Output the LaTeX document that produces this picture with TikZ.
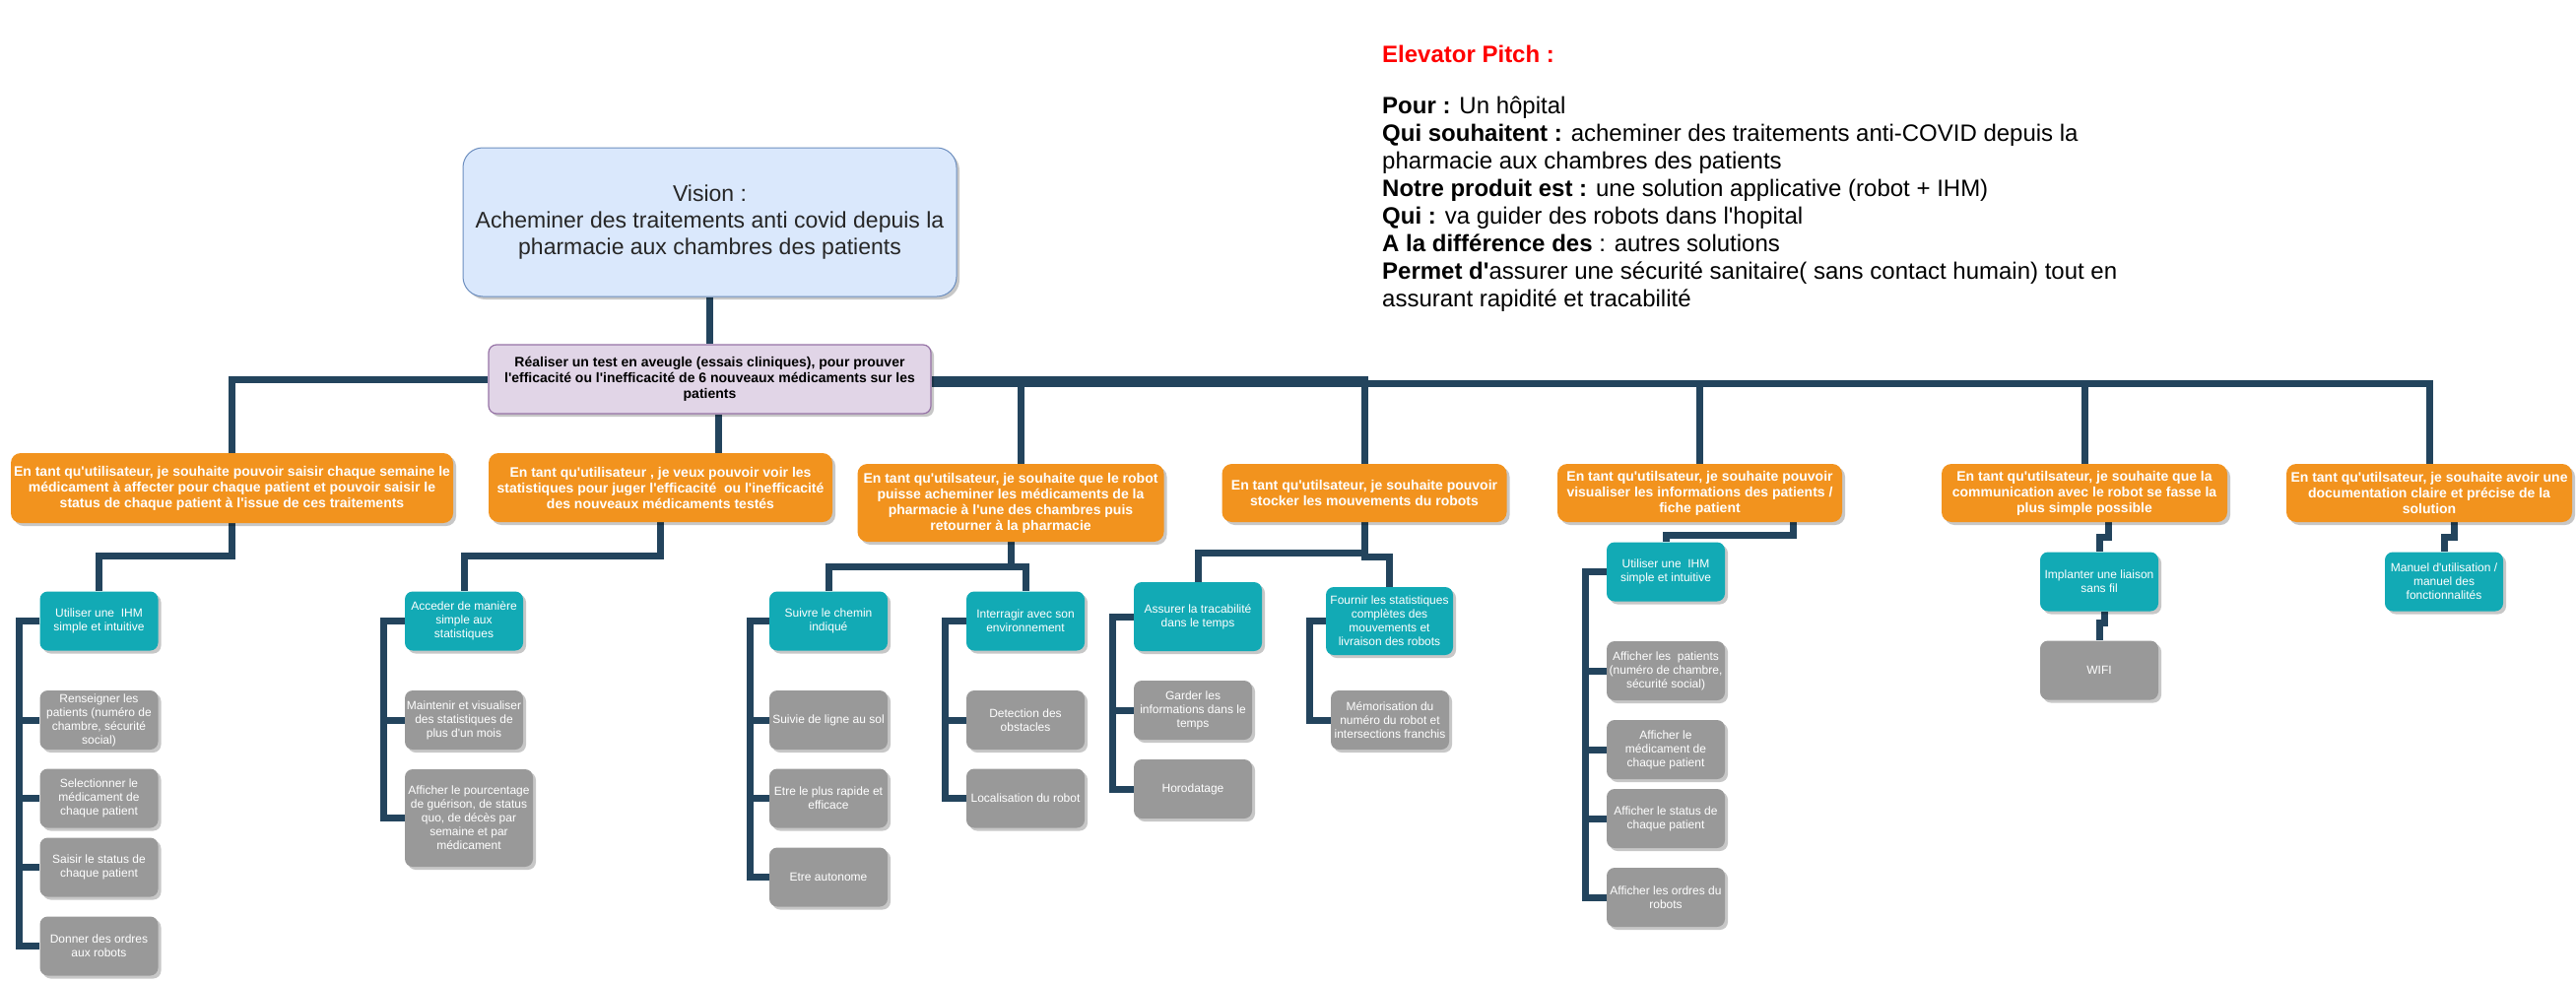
\documentclass[tikz,border=0pt]{standalone}
\usepackage{fontspec}
\setmainfont{Liberation Sans}[Ligatures=TeXOff]
\usetikzlibrary{shadows}

\definecolor{wirecol}{HTML}{23445D}
\definecolor{storycol}{HTML}{F2931E}
\definecolor{taskcol}{HTML}{12AAB5}
\definecolor{subcol}{HTML}{999999}
\definecolor{visionfill}{HTML}{DAE8FC}
\definecolor{visionline}{HTML}{6C8EBF}
\definecolor{epicfill}{HTML}{E1D5E7}
\definecolor{epicline}{HTML}{9673A6}

\pgfdeclarelayer{wires}
\pgfsetlayers{wires,main}

\tikzset{
  card/.style={rounded corners=8pt, align=center, inner sep=1pt, text=white,
    drop shadow={shadow xshift=3pt, shadow yshift=-3pt, fill=black, opacity=0.22}},
  visionbox/.style={card, fill=visionfill, draw=visionline, line width=1pt, rounded corners=20pt,
    text=black!85, font=\fontsize{23}{27}\selectfont},
  epicbox/.style={card, fill=epicfill, draw=epicline, line width=1.2pt, text=black,
    font=\fontsize{14}{16}\selectfont\bfseries},
  storybox/.style={card, fill=storycol, rounded corners=10pt, font=\fontsize{14}{16}\selectfont\bfseries},
  taskbox/.style={card, fill=taskcol, minimum width=120pt, minimum height=60pt,
    font=\fontsize{12}{14}\selectfont},
  subbox/.style={taskbox, fill=subcol},
  pitchtext/.style={anchor=base west, inner sep=0pt, font=\fontsize{24}{28}\selectfont},
  wire/.style={draw=wirecol, line width=7pt},
}

\begin{document}
\begin{tikzpicture}[x=1pt, y=-1pt]
  \useasboundingbox (0,0) rectangle (2615,996);

  % vision and epic
  \node[visionbox, minimum width=501pt, minimum height=151pt] (vision) at (720.5,225.5)
    {Vision :\\Acheminer des traitements anti covid depuis la\\pharmacie aux chambres des patients};
  \node[epicbox, minimum width=449pt, minimum height=70pt] (test) at (720.5,385)
    {R\'ealiser un test en aveugle (essais cliniques), pour prouver\\l'efficacit\'e ou l'inefficacit\'e de 6 nouveaux m\'edicaments sur les\\patients};

  % user stories
  \node[storybox, minimum width=449pt, minimum height=71pt] (us1) at (235.5,495.5)
    {En tant qu'utilisateur, je souhaite pouvoir saisir chaque semaine le\\m\'edicament \`a affecter pour chaque patient et pouvoir saisir le\\status de chaque patient \`a l'issue de ces traitements};
  \node[storybox, minimum width=349pt, minimum height=70pt] (us2) at (670.5,495)
    {En tant qu'utilisateur , je veux pouvoir voir les\\statistiques pour juger l'efficacit\'e\ \ ou l'inefficacit\'e\\des nouveaux m\'edicaments test\'es};
  \node[storybox, minimum width=311pt, minimum height=79pt] (us3) at (1026,510.5)
    {En tant qu'utilsateur, je souhaite que le robot\\puisse acheminer les m\'edicaments de la\\pharmacie \`a l'une des chambres puis\\retourner \`a la pharmacie};
  \node[storybox, minimum width=289pt, minimum height=59pt] (us4) at (1385,500.5)
    {En tant qu'utilsateur, je souhaite pouvoir\\stocker les mouvements du robots};
  \node[storybox, minimum width=289pt, minimum height=59pt] (us5) at (1725.5,500.5)
    {En tant qu'utilsateur, je souhaite pouvoir\\visualiser les informations des patients /\\fiche patient};
  \node[storybox, minimum width=290pt, minimum height=59pt] (us6) at (2116,500.5)
    {En tant qu'utilsateur, je souhaite que la\\communication avec le robot se fasse la\\plus simple possible};
  \node[storybox, minimum width=290pt, minimum height=59pt] (us7) at (2466,500.5)
    {En tant qu'utilsateur, je souhaite avoir une\\documentation claire et pr\'ecise de la\\solution};

  % tasks and subtasks
  \node[taskbox] (t1) at (100.5,630.5) {Utiliser une\ \ IHM\\simple et intuitive};
  \node[subbox] (s1a) at (100.5,731) {Renseigner les\\patients (num\'ero de\\chambre, s\'ecurit\'e\\social)};
  \node[subbox] (s1b) at (100.5,810.5) {Selectionner le\\m\'edicament de\\chaque patient};
  \node[subbox] (s1c) at (100.5,880.5) {Saisir le status de\\chaque patient};
  \node[subbox] (s1d) at (100.5,960.5) {Donner des ordres\\aux robots};

  \node[taskbox] (t2) at (471,630.5) {Acceder de mani\`ere\\simple aux\\statistiques};
  \node[subbox] (s2a) at (471,731) {Maintenir et visualiser\\des statistiques de\\plus d'un mois};
  \node[subbox, minimum width=130pt, minimum height=99pt] (s2b) at (476,830.5)
    {Afficher le pourcentage\\de gu\'erison, de status\\quo, de d\'ec\`es par\\semaine et par\\m\'edicament};

  \node[taskbox] (t3) at (841,630.5) {Suivre le chemin\\indiqu\'e};
  \node[subbox] (s3a) at (841,731) {Suivie de ligne au sol};
  \node[subbox] (s3b) at (841,810.5) {Etre le plus rapide et\\efficace};
  \node[subbox] (s3c) at (841,890.5) {Etre autonome};

  \node[taskbox] (t4) at (1041,630.5) {Interragir avec son\\environnement};
  \node[subbox] (s4a) at (1041,731) {Detection des\\obstacles};
  \node[subbox] (s4b) at (1041,810.5) {Localisation du robot};

  \node[taskbox, minimum width=130pt, minimum height=70pt] (t5) at (1216,626) {Assurer la tracabilit\'e\\dans le temps};
  \node[subbox] (s5a) at (1211,721) {Garder les\\informations dans le\\temps};
  \node[subbox] (s5b) at (1211,801) {Horodatage};

  \node[taskbox, minimum width=129pt, minimum height=69pt] (t6) at (1410.5,630.5)
    {Fournir les statistiques\\compl\`etes des\\mouvements et\\livraison des robots};
  \node[subbox] (s6a) at (1411,731) {M\'emorisation du\\num\'ero du robot et\\intersections franchis};

  \node[taskbox] (t7) at (1691,580.5) {Utiliser une\ \ IHM\\simple et intuitive};
  \node[subbox] (s7a) at (1691,681) {Afficher les\ \ patients\\(num\'ero de chambre,\\s\'ecurit\'e social)};
  \node[subbox] (s7b) at (1691,761) {Afficher le\\m\'edicament de\\chaque patient};
  \node[subbox] (s7c) at (1691,831) {Afficher le status de\\chaque patient};
  \node[subbox] (s7d) at (1691,911) {Afficher les ordres du\\robots};

  \node[taskbox] (t8) at (2131,590.5) {Implanter une liaison\\sans fil};
  \node[subbox] (s8a) at (2131,680.5) {WIFI};

  \node[taskbox] (t9) at (2481,590.5) {Manuel d'utilisation /\\manuel des\\fonctionnalit\'es};

  % elevator pitch
  \node[pitchtext, text=red, font=\fontsize{24}{28}\selectfont\bfseries] (pitch) at (1403,63) {Elevator Pitch :};
  \foreach \ln [count=\i from 0] in {
      {\textbf{Pour :} Un h\^opital},
      {\textbf{Qui souhaitent :} acheminer des traitements anti-COVID depuis la},
      {pharmacie aux chambres des patients},
      {\textbf{Notre produit est :} une solution applicative (robot + IHM)},
      {\textbf{Qui :} va guider des robots dans l'hopital},
      {\textbf{A la diff\'erence des} : autres solutions},
      {\textbf{Permet d'}assurer une s\'ecurit\'e sanitaire( sans contact humain) tout en},
      {assurant rapidit\'e et tracabilit\'e}} {
    \node[pitchtext] (pitch\i) at (1403,115+28*\i) {\ln};
  }

  % connectors
  \begin{pgfonlayer}{wires}
    \fill[white] (0,0) rectangle (2615,996);
    \draw[wire] (vision.south) -- (test.north);
    \draw[wire] (test.west) -| (us1.north);
    \draw[wire] ([xshift=59pt]us2.north) -- ([xshift=9pt]test.south);
    \draw[wire] (test.east) -| ([xshift=10pt]us3.north);
    \draw[wire] (test.east) -| (us4.north);
    \foreach \n in {5,6,7}
      \draw[wire] ([yshift=-4pt]test.east) -| (us\n.north);

    \draw[wire] (us1.south) -- ++(0,33) -| (t1.north);
    \draw[wire] (us2.south) -- ++(0,34) -| (t2.north);
    \draw[wire] (us3.south) -- ++(0,25) -| (t3.north);
    \draw[wire] (us3.south) -- ++(0,25) -| (t4.north);
    \draw[wire] (us4.south) -- ++(0,31) -| (t5.north);
    \draw[wire] (us4.south) -- ++(0,35) -| (t6.north);
    \draw[wire] ([xshift=95pt]us5.south) -- ++(0,13) -| (t7.north);
    \draw[wire] ([xshift=24pt]us6.south) -- ++(0,15) -| (t8.north);
    \draw[wire] ([xshift=5pt]t8.south) -- ++(0,12) -| (s8a.north);
    \draw[wire] ([xshift=25pt]us7.south) -- ++(0,15) -| (t9.north);

    \foreach \c in {a,b,c,d}
      \draw[wire] (t1.west) -- ++(-21,0) |- (s1\c.west);
    \foreach \c in {a,b}
      \draw[wire] (t2.west) -- ++(-21,0) |- (s2\c.west);
    \foreach \c in {a,b,c}
      \draw[wire] (t3.west) -- ++(-19,0) |- (s3\c.west);
    \foreach \c in {a,b}
      \draw[wire] (t4.west) -- ++(-21,0) |- (s4\c.west);
    \foreach \c in {a,b}
      \draw[wire] (t5.west) -- ++(-21,0) |- (s5\c.west);
    \draw[wire] (t6.west) -- ++(-16,0) |- (s6a.west);
    \foreach \c in {a,b,c,d}
      \draw[wire] (t7.west) -- ++(-21,0) |- (s7\c.west);
  \end{pgfonlayer}
\end{tikzpicture}
\end{document}
